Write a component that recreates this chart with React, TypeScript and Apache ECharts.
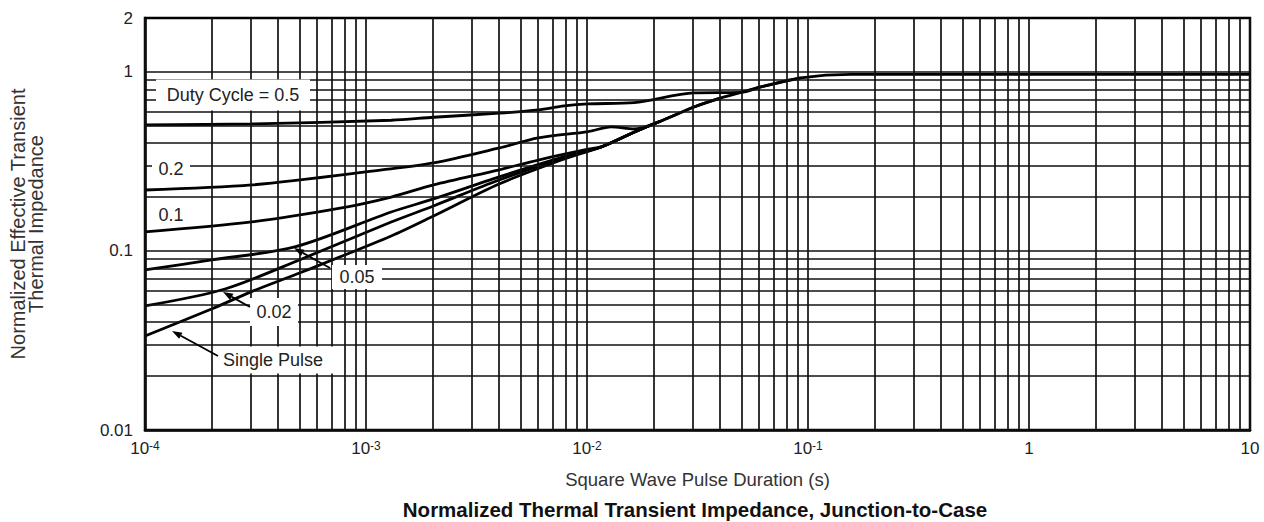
import React, { useEffect, useRef } from "react";
import * as echarts from "echarts";

// ---- axis / grid values ----
const xDecades = [1e-4, 1e-3, 1e-2, 1e-1, 1];
const yDecades = [0.01, 0.1];
const minorSteps = [2, 3, 4, 5, 6, 7, 8, 9];
const xMin = 1e-4;
const xMax = 10;
const yMin = 0.01;
const yMax = 2;

// ---- curves: [pulse duration (s), normalized Zth] ----
const singlePulse: [number, number][] = [
  [1e-4, 0.0335], [2.0e-4, 0.0474], [3.04e-4, 0.0593], [5.1e-4, 0.076],
  [1.3e-3, 0.1213], [2.02e-3, 0.1568], [4.0e-3, 0.2367], [7.9e-3, 0.3266],
  [1.16e-2, 0.381], [1.63e-2, 0.46], [2.16e-2, 0.532], [3.05e-2, 0.637],
  [4.04e-2, 0.716], [4.97e-2, 0.768], [6.12e-2, 0.824], [9.28e-2, 0.926],
  [0.156, 0.968], [10, 0.968],
];
const duty002: [number, number][] = [
  [1e-4, 0.0493], [2.3e-4, 0.0613], [5.12e-4, 0.0902], [1.3e-3, 0.145],
  [2.02e-3, 0.1784], [4.0e-3, 0.249], [7.9e-3, 0.333], [1.16e-2, 0.381],
  [1.63e-2, 0.46], [2.16e-2, 0.532],
];
const duty005: [number, number][] = [
  [1e-4, 0.0783], [2.0e-4, 0.0891], [4.76e-4, 0.1053], [1.3e-3, 0.165],
  [2.02e-3, 0.1952], [4.0e-3, 0.259], [7.9e-3, 0.336], [1.16e-2, 0.381],
  [1.63e-2, 0.46], [2.16e-2, 0.532],
];
const duty01: [number, number][] = [
  [1e-4, 0.1277], [3.04e-4, 0.1452], [7.76e-4, 0.1739], [1.3e-3, 0.2],
  [2.02e-3, 0.2337], [4.01e-3, 0.284], [6.02e-3, 0.322], [1.013e-2, 0.37],
  [1.16e-2, 0.381], [1.63e-2, 0.46], [2.16e-2, 0.532],
];
const duty02: [number, number][] = [
  [1e-4, 0.219], [3.04e-4, 0.2337], [1.18e-3, 0.2835], [2.02e-3, 0.31],
  [4.01e-3, 0.376], [6.02e-3, 0.428], [1.013e-2, 0.464], [1.286e-2, 0.493],
  [1.63e-2, 0.48], [2.16e-2, 0.532], [3.05e-2, 0.637], [4.04e-2, 0.716],
];
const duty05: [number, number][] = [
  [1e-4, 0.506], [3.04e-4, 0.512], [1.3e-3, 0.537], [2.02e-3, 0.558],
  [4.01e-3, 0.588], [6.02e-3, 0.613], [7.89e-3, 0.646], [1.013e-2, 0.663],
  [1.634e-2, 0.674], [3.05e-2, 0.763], [4.97e-2, 0.768], [6.12e-2, 0.824],
  [9.28e-2, 0.926],
];

const curveNames = ["Single Pulse", "0.02", "0.05", "0.1", "0.2", "0.5"];

const FONT = "'Liberation Sans', Arial, sans-serif";

function arrow(tail: [number, number], tip: [number, number]) {
  const dx = tip[0] - tail[0];
  const dy = tip[1] - tail[1];
  const len = Math.hypot(dx, dy);
  const ux = dx / len;
  const uy = dy / len;
  const hl = 10;
  const hw = 3.5;
  const bx = tip[0] - ux * hl;
  const by = tip[1] - uy * hl;
  return [
    {
      type: "line",
      z: 100,
      shape: { x1: tail[0], y1: tail[1], x2: bx, y2: by },
      style: { stroke: "#000", lineWidth: 1.8 },
    },
    {
      type: "polygon",
      z: 100,
      shape: {
        points: [
          [tip[0], tip[1]],
          [bx - uy * hw, by + ux * hw],
          [bx + uy * hw, by - ux * hw],
        ],
      },
      style: { fill: "#000" },
    },
  ];
}

function label(text: string, cx: number, cy: number, w: number, h: number) {
  return [
    {
      type: "rect",
      z: 99,
      shape: { x: cx - w / 2, y: cy - h / 2, width: w, height: h },
      style: { fill: "#fff" },
    },
    {
      type: "text",
      z: 101,
      x: cx,
      y: cy,
      style: {
        text,
        fill: "#222",
        font: `18px ${FONT}`,
        textAlign: "center",
        textVerticalAlign: "middle",
      },
    },
  ];
}

export default function App() {
  const ref = useRef<HTMLDivElement>(null);

  useEffect(() => {
    if (!ref.current) return;
    const chart = echarts.init(ref.current, null, { renderer: "svg" });

    const xGrid: number[] = [];
    xDecades.forEach((d) => {
      xGrid.push(d);
      minorSteps.forEach((m) => xGrid.push(m * d));
    });
    xGrid.push(xMax);
    const yGrid: number[] = [];
    yDecades.forEach((d) => {
      yGrid.push(d);
      minorSteps.forEach((m) => yGrid.push(m * d));
    });
    yGrid.push(1);

    const curves = [singlePulse, duty002, duty005, duty01, duty02, duty05];

    const option: any = {
      animation: false,
      backgroundColor: "#fff",
      textStyle: { fontFamily: FONT },
      title: {
        text: "Normalized Thermal Transient Impedance, Junction-to-Case",
        left: 695,
        textAlign: "center",
        top: 499,
        padding: 0,
        textStyle: {
          fontFamily: FONT,
          fontSize: 20.5,
          lineHeight: 21,
          fontWeight: "bold",
          color: "#111",
        },
      },
      grid: {
        left: 143,
        right: 14,
        top: 18,
        bottom: 92,
        show: true,
        borderColor: "#000",
        borderWidth: 2.5,
        backgroundColor: "transparent",
      },
      xAxis: {
        type: "log",
        logBase: 10,
        min: xMin,
        max: xMax,
        axisLine: { show: true, lineStyle: { color: "#000", width: 2.5 } },
        axisTick: { show: false },
        splitLine: { show: false },
        axisLabel: {
          color: "#222",
          fontSize: 17,
          margin: 10,
          fontFamily: FONT,
          formatter: (v: number) => {
            const e = Math.round(Math.log10(v));
            if (e === 0) return "1";
            if (e === 1) return "10";
            return "10{sup|" + e + "}";
          },
          rich: {
            sup: { fontSize: 12, verticalAlign: "top", color: "#222", fontFamily: FONT },
          },
        },
        name: "Square Wave Pulse Duration (s)",
        nameLocation: "middle",
        nameGap: 40,
        nameTextStyle: { color: "#333", fontSize: 18.5, fontFamily: FONT },
      },
      yAxis: {
        type: "log",
        logBase: 10,
        min: yMin,
        max: yMax,
        axisLine: { show: true, lineStyle: { color: "#000", width: 2.5 } },
        axisTick: { show: false },
        splitLine: { show: false },
        axisLabel: {
          color: "#222",
          fontSize: 17,
          margin: 12,
          fontFamily: FONT,
          showMaxLabel: true,
          formatter: (v: number) => String(Number(v.toPrecision(3))),
        },
        name: "Normalized Effective Transient\nThermal Impedance",
        nameLocation: "middle",
        nameGap: 100,
        nameRotate: 90,
        nameTextStyle: {
          color: "#333",
          fontSize: 20,
          lineHeight: 18,
          fontFamily: FONT,
          align: "center",
        },
      },
      series: [
        {
          type: "line",
          name: "grid",
          data: [],
          silent: true,
          z: 1,
          markLine: {
            silent: true,
            symbol: "none",
            precision: 8,
            animation: false,
            label: { show: false },
            lineStyle: { color: "#111", width: 1.7, type: "solid" },
            data: [
              ...xGrid.map((v) => ({ xAxis: v })),
              ...yGrid.map((v) => ({ yAxis: v })),
            ],
          },
        },
        ...curves.map((c, i) => ({
          type: "line",
          name: curveNames[i],
          data: c,
          showSymbol: false,
          symbol: "none",
          smooth: 0.3,
          z: 3,
          lineStyle: { color: "#000", width: 2.8 },
        })),
      ],
      graphic: [
        ...label("Duty Cycle = 0.5", 233, 95, 154, 31),
        ...label("0.2", 171, 169, 38, 22),
        ...label("0.1", 171, 215, 38, 20),
        ...label("0.05", 357, 277, 50, 24),
        ...label("0.02", 274, 312, 48, 28),
        ...label("Single Pulse", 273, 360, 120, 27),
        ...arrow([330, 268], [294, 248]),
        ...arrow([250, 307], [223, 292]),
        ...arrow([218, 356], [172, 331]),
      ],
    };

    chart.setOption(option);
    return () => chart.dispose();
  }, []);

  return (
    <div
      ref={ref}
      style={{ position: "fixed", left: 0, top: 0, width: 1264, height: 522 }}
    />
  );
}
